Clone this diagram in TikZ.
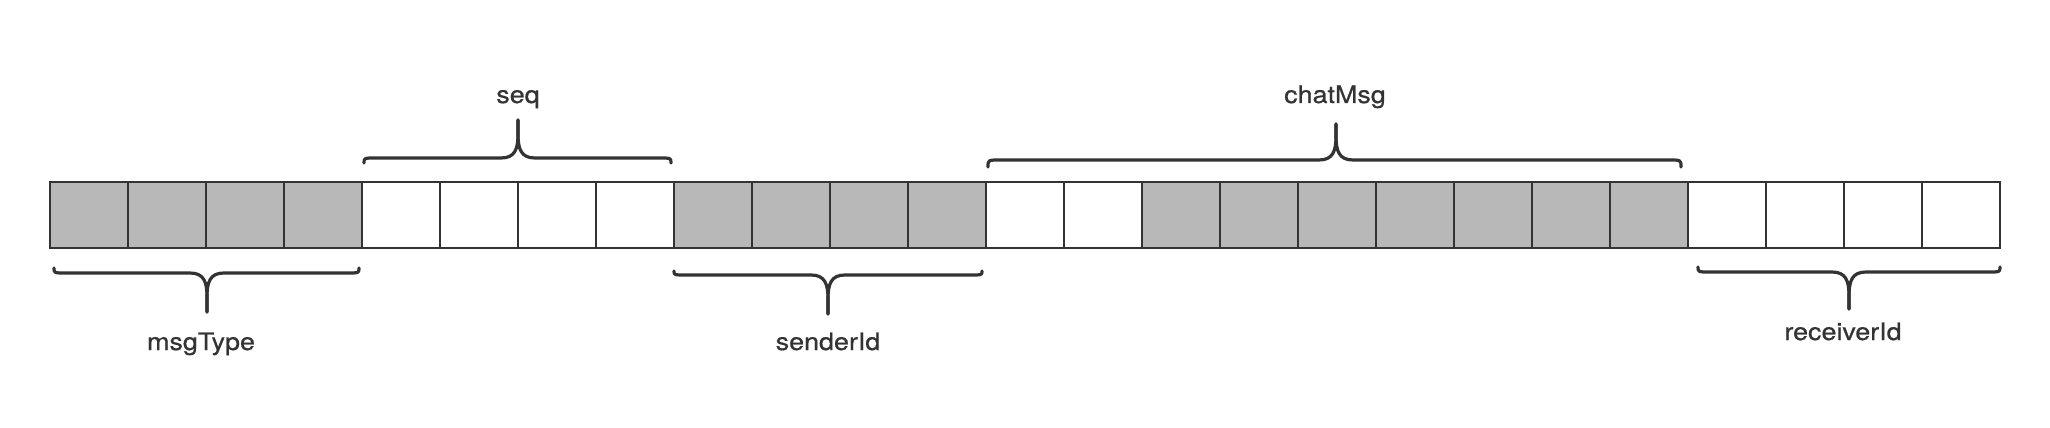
\documentclass[tikz,border=0pt]{standalone}
\usepackage{fontspec}
\newfontfamily\labfont[FakeStretch=1.12,FakeBold=0.6]{TeX Gyre Heros}
\definecolor{ink}{HTML}{333333}
\definecolor{cellgray}{HTML}{B8B8B8}
\newcommand\mybrace[6]{%
  \pgfmathsetmacro\bs{(#6>#5)?1:-1}%
  \draw[bracestroke] (#1,#4) .. controls (#1,#5) .. (#1+12,#5) -- (#3-17,#5)
     .. controls (#3-3,#5) and (#3,#5+\bs*9) .. (#3,#5+\bs*24) -- (#3,#6);
  \draw[bracestroke] (#2,#4) .. controls (#2,#5) .. (#2-12,#5) -- (#3+17,#5)
     .. controls (#3+3,#5) and (#3,#5+\bs*9) .. (#3,#5+\bs*24) -- (#3,#6);
}
\begin{document}
\begin{tikzpicture}[x=0.75pt,y=-0.75pt,
  cell/.style={draw=ink,line width=1.5pt,minimum width=58.5pt,minimum height=49.5pt,inner sep=0pt,outer sep=0pt},
  g/.style={cell,fill=cellgray},
  w/.style={cell,fill=white},
  bracestroke/.style={draw=ink,line width=2.4pt,line cap=round,line join=round},
  lab/.style={font=\labfont\fontsize{18pt}{20pt}\selectfont,text=ink,anchor=base,inner sep=0pt}]
\useasboundingbox (0,0) rectangle (2050,428);
\fill[white] (0,0) rectangle (2050,428);
\foreach \i/\f in {1/g,2/g,3/g,4/g,5/w,6/w,7/w,8/w,9/g,10/g,11/g,12/g,13/w,14/w,15/g,16/g,17/g,18/g,19/g,20/g,21/g,22/w,23/w,24/w,25/w}
  \node[\f] (c\i) at ({50+78*(\i-0.5)},215) {};
\mybrace{54}{359}{207}{268}{273}{312}
\mybrace{364}{671}{518}{163}{158}{120}
\mybrace{674}{982}{828}{271}{275}{314}
\mybrace{988}{1681}{1336}{167}{160}{124}
\mybrace{1698}{2000}{1849}{267}{272}{309}
\node[lab] (lmsg) at (201,350) {msgType};
\node[lab] (lseq) at (518,103) {seq};
\node[lab] (lsnd) at (828,350) {senderId};
\node[lab] (lchat) at (1335,103) {chatMsg};
\node[lab] (lrcv) at (1843,340) {receiverId};
\end{tikzpicture}
\end{document}
